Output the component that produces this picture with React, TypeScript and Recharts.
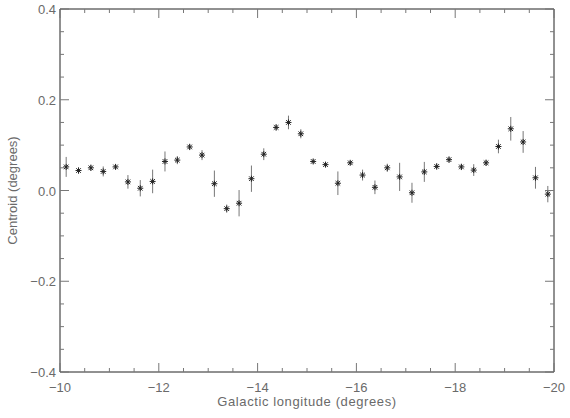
import React from 'react';
import { ScatterChart, Scatter, XAxis, YAxis, ErrorBar } from 'recharts';

const longitudes = [
  -10.125, -10.375, -10.625, -10.875, -11.125, -11.375, -11.625, -11.875,
  -12.125, -12.375, -12.625, -12.875, -13.125, -13.375, -13.625, -13.875,
  -14.125, -14.375, -14.625, -14.875, -15.125, -15.375, -15.625, -15.875,
  -16.125, -16.375, -16.625, -16.875, -17.125, -17.375, -17.625, -17.875,
  -18.125, -18.375, -18.625, -18.875, -19.125, -19.375, -19.625, -19.875,
];

const centroids = [
  0.052, 0.044, 0.050, 0.042, 0.052, 0.019, 0.005, 0.020,
  0.064, 0.067, 0.096, 0.078, 0.015, -0.040, -0.028, 0.026,
  0.080, 0.139, 0.150, 0.125, 0.064, 0.057, 0.016, 0.061,
  0.034, 0.007, 0.050, 0.030, -0.005, 0.041, 0.053, 0.068,
  0.052, 0.045, 0.061, 0.097, 0.136, 0.107, 0.028, -0.008,
];

const errors = [
  0.022, 0.007, 0.007, 0.011, 0.005, 0.015, 0.018, 0.026,
  0.022, 0.009, 0.007, 0.011, 0.029, 0.009, 0.029, 0.029,
  0.013, 0.007, 0.015, 0.010, 0.005, 0.005, 0.026, 0.005,
  0.012, 0.015, 0.009, 0.031, 0.022, 0.022, 0.007, 0.007,
  0.007, 0.013, 0.007, 0.015, 0.026, 0.024, 0.024, 0.018,
];

const xTicks = [
  -10, -10.5, -11, -11.5, -12, -12.5, -13, -13.5, -14, -14.5, -15,
  -15.5, -16, -16.5, -17, -17.5, -18, -18.5, -19, -19.5, -20,
];
const xMajorTicks = [-10, -12, -14, -16, -18, -20];
const xTickLabels = ['\u221210', '\u221212', '\u221214', '\u221216', '\u221218', '\u221220'];

const yTicks = [
  -0.4, -0.35, -0.3, -0.25, -0.2, -0.15, -0.1, -0.05, 0,
  0.05, 0.1, 0.15, 0.2, 0.25, 0.3, 0.35, 0.4,
];
const yMajorTicks = [-0.4, -0.2, 0, 0.2, 0.4];
const yTickLabels = ['\u22120.4', '\u22120.2', '0.0', '0.2', '0.4'];

const data = longitudes.map((x, i) => ({ x, y: centroids[i], err: errors[i] }));

const FONT = '"Liberation Sans", Arial, sans-serif';
const TEXT = '#6a6a6a';
const TICK = '#777';
const AXIS = '#222';

const majorIndex = (list: number[], v: number) =>
  list.findIndex((m) => Math.abs(m - v) < 1e-6);

const BottomTick = (p: any) => {
  const { x, y, payload } = p;
  const idx = majorIndex(xMajorTicks, payload.value);
  const len = idx >= 0 ? 9 : 4;
  return (
    <g>
      <line x1={x} y1={y} x2={x} y2={y - len} stroke={TICK} strokeWidth={1} />
      {idx >= 0 && (
        <text x={x} y={y + 20} textAnchor="middle" fontFamily={FONT} fontSize={13} fill={TEXT}>
          {xTickLabels[idx]}
        </text>
      )}
    </g>
  );
};

const TopTick = (p: any) => {
  const { x, y, payload } = p;
  const idx = majorIndex(xMajorTicks, payload.value);
  const len = idx >= 0 ? 9 : 4;
  return <line x1={x} y1={y} x2={x} y2={y + len} stroke={TICK} strokeWidth={1} />;
};

const LeftTick = (p: any) => {
  const { x, y, payload } = p;
  const idx = majorIndex(yMajorTicks, payload.value);
  const len = idx >= 0 ? 9 : 4;
  return (
    <g>
      <line x1={x} y1={y} x2={x + len} y2={y} stroke={TICK} strokeWidth={1} />
      {idx >= 0 && (
        <text x={x - 4} y={y + 5} textAnchor="end" fontFamily={FONT} fontSize={13} fill={TEXT}>
          {yTickLabels[idx]}
        </text>
      )}
    </g>
  );
};

const RightTick = (p: any) => {
  const { x, y, payload } = p;
  const idx = majorIndex(yMajorTicks, payload.value);
  const len = idx >= 0 ? 9 : 4;
  return <line x1={x} y1={y} x2={x - len} y2={y} stroke={TICK} strokeWidth={1} />;
};

const Star = (p: any) => {
  const { cx, cy } = p;
  if (cx == null || cy == null) return <g />;
  const r = 3;
  const d = 2.3;
  return (
    <g stroke="#222" strokeWidth={1}>
      <line x1={cx - r} y1={cy} x2={cx + r} y2={cy} />
      <line x1={cx} y1={cy - r} x2={cx} y2={cy + r} />
      <line x1={cx - d} y1={cy - d} x2={cx + d} y2={cy + d} />
      <line x1={cx - d} y1={cy + d} x2={cx + d} y2={cy - d} />
    </g>
  );
};

const Nothing = () => <g />;

const XLabel = (p: any) => {
  const vb = p.viewBox || { x: 60, y: 372, width: 494, height: 46 };
  return (
    <text x={vb.x + vb.width / 2} y={vb.y + 34} textAnchor="middle" fontFamily={FONT} fontSize={13} letterSpacing={0.6} fill={TEXT}>
      Galactic longitude (degrees)
    </text>
  );
};

const YLabel = (p: any) => {
  const vb = p.viewBox || { x: 0, y: 9, width: 60, height: 363 };
  const cx = vb.x + 17;
  const cy = vb.y + vb.height / 2;
  return (
    <text x={cx} y={cy} transform={`rotate(-90 ${cx} ${cy})`} textAnchor="middle" fontFamily={FONT} fontSize={13} fill={TEXT}>
      Centroid (degrees)
    </text>
  );
};

export default function App() {
  return (
    <div style={{ position: 'absolute', left: 0, top: 0, width: 570, height: 418, background: '#fff' }}>
      <ScatterChart width={570} height={418} margin={{ top: 8, right: 15, bottom: 0, left: 0 }}>
        <XAxis
          xAxisId="b"
          dataKey="x"
          type="number"
          domain={[-20, -10]}
          reversed
          ticks={xTicks}
          interval={0}
          tick={BottomTick}
          tickLine={false}
          tickSize={0}
          tickMargin={0}
          height={46}
          axisLine={{ stroke: AXIS, strokeWidth: 1 }}
          allowDataOverflow
          label={XLabel}
        />
        <XAxis
          xAxisId="t"
          orientation="top"
          dataKey="x"
          type="number"
          domain={[-20, -10]}
          reversed
          ticks={xTicks}
          interval={0}
          tick={TopTick}
          tickLine={false}
          tickSize={0}
          tickMargin={0}
          height={1}
          axisLine={{ stroke: AXIS, strokeWidth: 1 }}
          allowDataOverflow
        />
        <YAxis
          yAxisId="l"
          dataKey="y"
          type="number"
          domain={[-0.4, 0.4]}
          ticks={yTicks}
          interval={0}
          tick={LeftTick}
          tickLine={false}
          tickSize={0}
          tickMargin={0}
          width={60}
          axisLine={{ stroke: AXIS, strokeWidth: 1 }}
          allowDataOverflow
          label={YLabel}
        />
        <YAxis
          yAxisId="r"
          orientation="right"
          dataKey="y"
          type="number"
          domain={[-0.4, 0.4]}
          ticks={yTicks}
          interval={0}
          tick={RightTick}
          tickLine={false}
          tickSize={0}
          tickMargin={0}
          width={1}
          axisLine={{ stroke: AXIS, strokeWidth: 1 }}
          allowDataOverflow
        />
        <Scatter data={data} xAxisId="t" yAxisId="r" shape={Nothing} isAnimationActive={false} />
        <Scatter data={data} xAxisId="b" yAxisId="l" shape={Star} isAnimationActive={false}>
          <ErrorBar dataKey="err" direction="y" width={0} stroke="#777" strokeWidth={1} isAnimationActive={false} />
        </Scatter>
      </ScatterChart>
    </div>
  );
}
